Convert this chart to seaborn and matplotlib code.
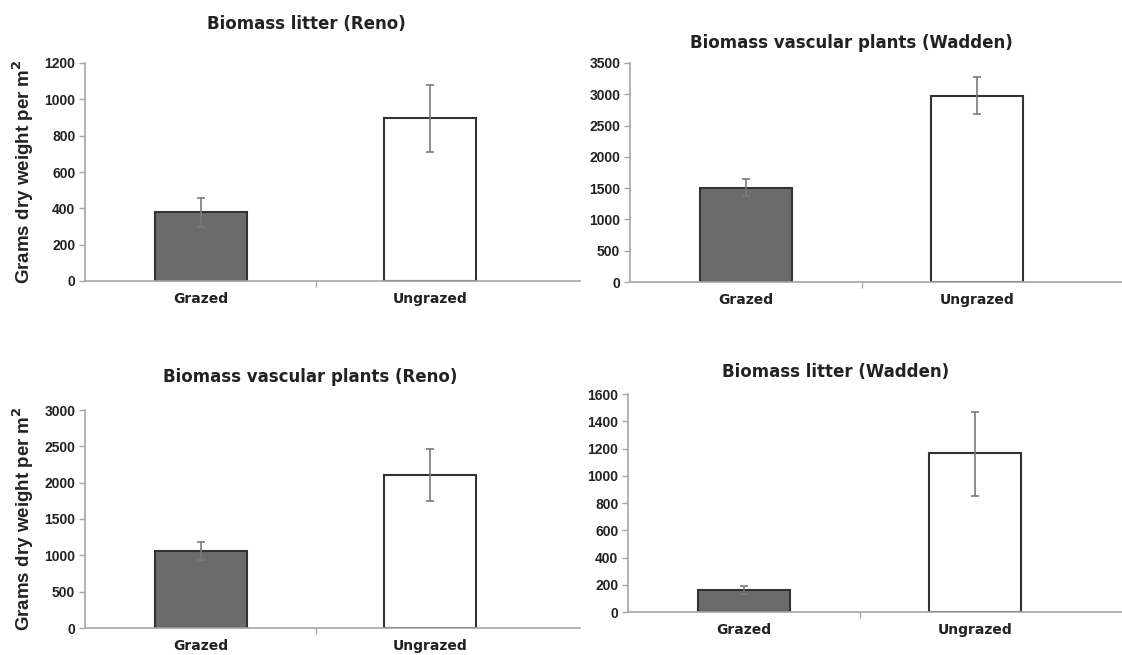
import matplotlib
matplotlib.use("Agg")
import matplotlib.pyplot as plt
import numpy as np
import pandas as pd
import seaborn as sns

treatments = ["Grazed", "Ungrazed"]

titles = [
    "Biomass litter (Reno)",
    "Biomass vascular plants (Wadden)",
    "Biomass vascular plants (Reno)",
    "Biomass litter (Wadden)",
]
means = [
    [380, 895],
    [1500, 2970],
    [1060, 2110],
    [160, 1165],
]
err_low = [
    [295, 710],
    [1370, 2680],
    [940, 1750],
    [130, 850],
]
err_high = [
    [455, 1080],
    [1640, 3280],
    [1190, 2460],
    [190, 1470],
]
y_max = [1200, 3500, 3000, 1600]
y_step = [200, 500, 500, 200]

sns.set_style("white")
plt.rcParams["font.family"] = ["DejaVu Sans"]

W, H = 1122, 655
fig = plt.figure(figsize=(W / 100, H / 100), dpi=100)

# axes boxes in pixels: (left, right, top, bottom), plus category centre pixels
boxes = [
    (85, 580, 63, 281, 201, 430),
    (630, 1122, 63, 282, 746, 977),
    (85, 580, 410, 628, 201, 430),
    (628, 1122, 394, 612, 744, 975),
]
title_xy = [(306, 24), (851, 43), (310, 377), (836, 372)]

grey = "#a6a6a6"
for i, (l, r, t, b, c0, c1) in enumerate(boxes):
    ax = fig.add_axes([l / W, (H - b) / H, (r - l) / W, (b - t) / H])
    df = pd.DataFrame({"treatment": treatments, "biomass": means[i]})
    sns.barplot(data=df, x="treatment", y="biomass", hue="treatment",
                palette=["#6b6b6b", "#ffffff"], edgecolor="#333333",
                linewidth=1.5, width=0.4, legend=False, ax=ax)
    m = np.array(means[i])
    lo = m - np.array(err_low[i])
    hi = np.array(err_high[i]) - m
    ax.errorbar([0, 1], m, yerr=[lo, hi], fmt="none", ecolor="#7a7a7a",
                elinewidth=1.2, capsize=3, capthick=1.2)
    sp = c1 - c0
    ax.set_xlim(-(c0 - l) / sp, 1 + (r - c1) / sp)
    ax.set_ylim(0, y_max[i])
    ax.set_yticks(np.arange(0, y_max[i] + 1, y_step[i]))
    ax.set_xticks([0, 1])
    ax.set_xticks([0.5], minor=True)
    ax.set_xticklabels(treatments, fontsize=10, fontweight="bold",
                       color="#222222")
    for lab in ax.get_yticklabels():
        lab.set_fontfamily("Liberation Sans")
        lab.set_fontweight("bold")
        lab.set_fontsize(10)
        lab.set_color("#222222")
    ax.tick_params(axis="y", direction="out", length=4, width=1,
                   color=grey, pad=3, left=True)
    ax.tick_params(axis="x", which="major", length=0, pad=8)
    ax.tick_params(axis="x", which="minor", direction="out", length=4,
                   width=1, color=grey, bottom=True)
    for s in ["top", "right"]:
        ax.spines[s].set_visible(False)
    for s in ["left", "bottom"]:
        ax.spines[s].set_color(grey)
        ax.spines[s].set_linewidth(1.2)
    ax.set_xlabel("")
    if i in (0, 2):
        ax.set_ylabel("Grams dry weight per m$^\\mathbf{2}$", fontsize=13.5,
                      fontweight="bold", family="Liberation Sans",
                      color="#222222", labelpad=6)
    else:
        ax.set_ylabel("")
    tx, ty = title_xy[i]
    fig.text(tx / W, 1 - ty / H, titles[i], ha="center",
             va="center", fontsize=12, fontweight="bold", color="#222222")

fig.savefig("out.png", dpi=100)
